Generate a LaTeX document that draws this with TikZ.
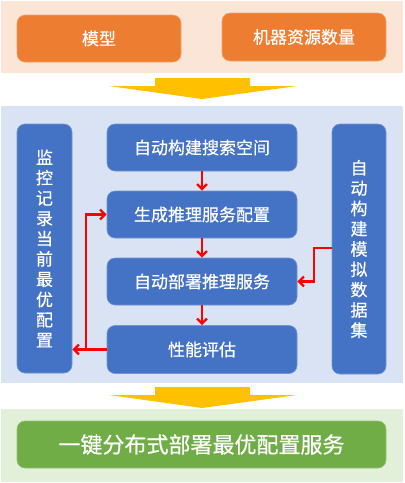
\documentclass[tikz,border=0pt]{standalone}
\usepackage{fontspec}
\setmainfont{Noto Sans CJK SC}
\newfontfamily\boxfont{Noto Sans CJK SC}[FakeBold=0.5]
\usetikzlibrary{arrows.meta}
\definecolor{peach}{HTML}{FBE5D6}
\definecolor{orangebox}{HTML}{ED7D31}
\definecolor{blueband}{HTML}{DAE3F3}
\definecolor{bluebox}{HTML}{4472C4}
\definecolor{greenband}{HTML}{E2F0D9}
\definecolor{greenbox}{HTML}{70AD47}
\definecolor{arrowyellow}{HTML}{FFC000}
\definecolor{redline}{HTML}{FF0000}
\tikzset{
  obox/.style={fill=orangebox, draw=orangebox!70!white, line width=0.6pt, rounded corners=8pt, inner sep=0pt, text=white, font=\boxfont\fontsize{17}{20}\selectfont},
  bbox/.style={fill=bluebox, draw=bluebox!75!white, line width=0.6pt, rounded corners=8pt, inner sep=0pt, text=white, font=\boxfont\fontsize{17}{20}\selectfont},
  vbox/.style={bbox, align=center, font=\boxfont\fontsize{17}{20.3}\selectfont},
  gbox/.style={fill=greenbox, draw=greenbox!75!white, line width=0.6pt, rounded corners=8pt, inner sep=0pt, text=white, font=\boxfont\fontsize{22}{26}\selectfont},
  ra/.style={draw=redline, line width=2.3pt, -{Straight Barb[length=5pt,width=10pt]}},
  bigarrow/.style={fill=arrowyellow, draw=none}
}
\begin{document}
\begin{tikzpicture}[x=1pt,y=-1pt]
\useasboundingbox (0,0) rectangle (405,483);
\fill[white] (0,0) rectangle (405,483);
% bands
\fill[peach] (1,1) rectangle (403,73);
\fill[blueband] (1,106) rectangle (403,383);
\fill[greenband] (1,409) rectangle (403,482);
% big yellow arrows
\fill[bigarrow] (155,78) -- (250,78) -- (250,86) -- (297,86) -- (202,99) -- (109,86) -- (155,86) -- cycle;
\fill[bigarrow] (155,387) -- (250,387) -- (250,395) -- (297,395) -- (202,408) -- (109,395) -- (155,395) -- cycle;
% top boxes
\node[obox, minimum width=164pt, minimum height=47pt] (model) at (99,38.5) {模型};
\node[obox, minimum width=164pt, minimum height=48pt] (machine) at (304,37) {机器资源数量};
% center column
\node[bbox, minimum width=190pt, minimum height=47pt] (b1) at (202,147.5) {自动构建搜索空间};
\node[bbox, minimum width=190pt, minimum height=47pt] (b2) at (202,214.5) {生成推理服务配置};
\node[bbox, minimum width=190pt, minimum height=47pt] (b3) at (202,281.5) {自动部署推理服务};
\node[bbox, minimum width=190pt, minimum height=48pt] (b4) at (202,349.5) {性能评估};
% side columns
\node[vbox, minimum width=55pt, minimum height=249pt] (lb) at (44.5,248.5) {监\\控\\记\\录\\当\\前\\最\\优\\配\\置};
\node[vbox, minimum width=54pt, minimum height=250pt] (rb) at (359,249) {自\\动\\构\\建\\模\\拟\\数\\据\\集};
% bottom
\node[gbox, minimum width=369pt, minimum height=47pt] (final) at (201.5,444.5) {一键分布式部署最优配置服务};
% red arrows
\draw[ra] (b1.south) -- (b2.north);
\draw[ra] (b2.south) -- (b3.north);
\draw[ra] (b3.south) -- (b4.north);
\coordinate (fb) at (86,349.5);
\draw[ra] (b4.west) -- (lb.east |- b4.west);
\draw[ra, line cap=rect] (fb) |- (b2.west);
\coordinate (rs) at (332,248);
\coordinate (rt) at (314,248);
\draw[ra] (rs) -- (rt) |- (b3.east);
\end{tikzpicture}
\end{document}
